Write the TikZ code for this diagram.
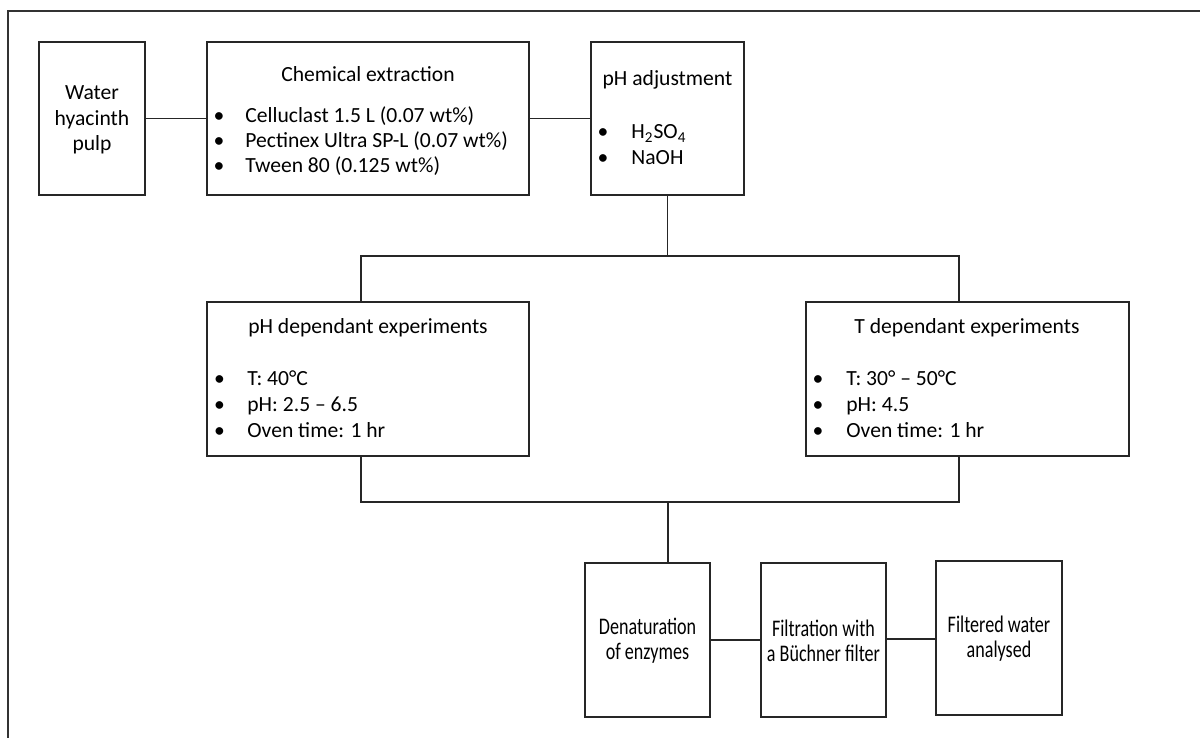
\documentclass[tikz,border=0pt]{standalone}
\usepackage{fontspec}
\setmainfont{Carlito}
\newfontfamily\narrowfont[FakeStretch=0.76]{Carlito}
\begin{document}
\begin{tikzpicture}[x=0.5pt,y=-0.5pt,
  box/.style={draw=black!85,line width=0.6pt,rectangle,inner sep=0pt},
  conn/.style={draw=black!85,line width=0.6pt},
  txt/.style={inner sep=0pt,font=\fontsize{10.8}{12.8}\selectfont},
  ctxt/.style={txt,align=center},
  ntxt/.style={inner sep=0pt,align=center,font=\narrowfont\fontsize{11.9}{12.6}\selectfont},
  btxt/.style={txt,anchor=base west},
  bul/.style={txt,anchor=base}]
\useasboundingbox (0,0) rectangle (1200,738);
\fill[white] (0,0) rectangle (1200,738);
% frame
\draw[black!80,line width=0.9pt] (8,745) -- (8,10.7) -- (1210,10.7);
% boxes
\node[box,minimum width=53pt,minimum height=76.5pt] (water) at (92,118.5) {};
\node[box,minimum width=161pt,minimum height=76.5pt] (chem) at (368,118.5) {};
\node[box,minimum width=76.5pt,minimum height=76.5pt] (phadj) at (667.5,118.5) {};
\node[box,minimum width=161pt,minimum height=77pt] (phdep) at (368,379) {};
\node[box,minimum width=161.5pt,minimum height=77pt] (tdep) at (967.5,379) {};
\node[box,minimum width=62.5pt,minimum height=77pt] (denat) at (647.5,640) {};
\node[box,minimum width=62.5pt,minimum height=77pt] (filt) at (823.5,640) {};
\node[box,minimum width=63pt,minimum height=77pt] (fwa) at (999,638) {};
% texts
\node[ctxt] (tw) at (92,120) {Water\\hyacinth\\pulp};
\node[txt,anchor=base] (tchem) at (368,82) {Chemical extraction};
\node[bul] (b1) at (219,123) {\textbullet};
\node[bul] (b2) at (219,148) {\textbullet};
\node[bul] (b3) at (219,173) {\textbullet};
\node[btxt] (c1) at (245,123) {Celluclast 1.5 L (0.07 wt\%)};
\node[btxt] (c2) at (245,148) {Pectinex Ultra SP-L (0.07 wt\%)};
\node[btxt] (c3) at (245,173) {Tween 80 (0.125 wt\%)};
\node[txt,anchor=base] (tph) at (667.5,86) {pH adjustment};
\node[bul] (b4) at (603,139) {\textbullet};
\node[bul] (b5) at (603,164) {\textbullet};
\node[btxt] (p1) at (631,139) {H\textsubscript{2}SO\textsubscript{4}};
\node[btxt] (p2) at (631,164) {NaOH};
\node[txt,anchor=base] (tphd) at (368,333) {pH dependant experiments};
\node[bul] (b6) at (219.5,385) {\textbullet};
\node[bul] (b7) at (219.5,411) {\textbullet};
\node[bul] (b8) at (219.5,437) {\textbullet};
\node[btxt] (d1) at (247,385) {T: 40°C};
\node[btxt] (d2) at (247,411) {pH: 2.5 – 6.5};
\node[btxt] (d3) at (247,437) {Oven time: 1 hr};
\node[txt,anchor=base] (ttd) at (967,333) {T dependant experiments};
\node[bul] (b9) at (818,385) {\textbullet};
\node[bul] (b10) at (818,411) {\textbullet};
\node[bul] (b11) at (818,437) {\textbullet};
\node[btxt] (e1) at (846,385) {T: 30° – 50°C};
\node[btxt] (e2) at (846,411) {pH: 4.5};
\node[btxt] (e3) at (846,437) {Oven time: 1 hr};
\node[ntxt] (td) at (647.5,641) {Denaturation\\of enzymes};
\node[ntxt] (tf) at (823.5,641) {Filtration with\\a Büchner filter};
\node[ntxt] (tfw) at (999,639) {Filtered water\\analysed};
% connectors
\coordinate (jt) at (667.5,256);
\coordinate (jl) at (361,256);
\coordinate (jr) at (959,256);
\coordinate (kl) at (361,502);
\coordinate (kr) at (959,502);
\coordinate (kc) at (668,502);
\draw[conn] (water.east) -- (chem.west);
\draw[conn] (chem.east) -- (phadj.west);
\draw[conn] (phadj.south) -- (jt);
\draw[conn] (jl |- phdep.north) -- (jl) -- (jr) -- (jr |- tdep.north);
\draw[conn] (kl |- phdep.south) -- (kl) -- (kr) -- (kr |- tdep.south);
\draw[conn] (kc) -- (kc |- denat.north);
\draw[conn] (denat.east) -- (filt.west);
\draw[conn] (filt.east |- 0,639) -- (fwa.west |- 0,639);
\end{tikzpicture}
\end{document}
